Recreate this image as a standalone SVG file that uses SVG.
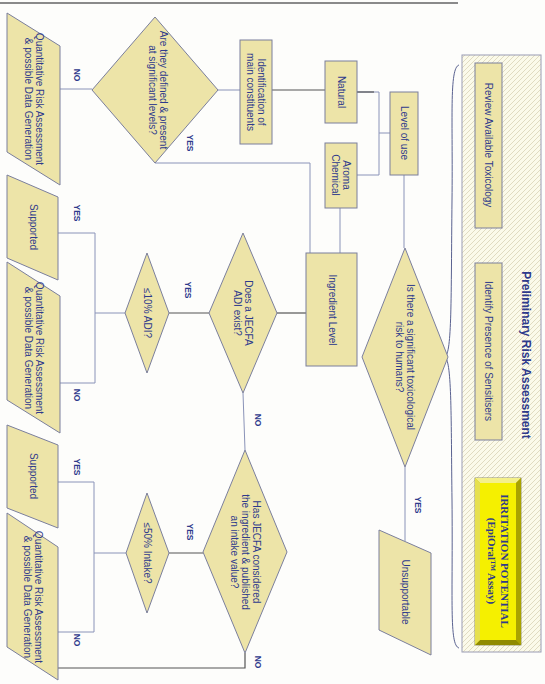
<svg xmlns="http://www.w3.org/2000/svg" width="545" height="684" viewBox="0 0 545 684">
<defs>
<pattern id="hatch" width="5" height="5" patternUnits="userSpaceOnUse">
<rect width="5" height="5" fill="#fbfaea"/>
<path d="M-1,1 L1,-1 M0,5 L5,0 M4,6 L6,4" stroke="#dcd8bc" stroke-width="0.9"/>
</pattern>
<style>
.box{fill:#ede4a8;stroke:#7b7f9c;stroke-width:1}
.t{font-family:"Liberation Sans",Arial,sans-serif;font-size:10px;fill:#2e3a8c;text-anchor:middle}
.lbl{font-family:"Liberation Sans",Arial,sans-serif;font-size:8.5px;font-weight:bold;fill:#2e3a8c;text-anchor:middle}
.c{fill:none;stroke:#8a93b8;stroke-width:1}
.cd{fill:none;stroke:#555;stroke-width:1.2}
</style>
</defs>
<rect width="545" height="684" fill="#fdfdfb"/>
<line x1="0" y1="3" x2="458" y2="3" stroke="#8a8a8a" stroke-width="2"/>

<g id="panel">
<rect x="462" y="55" width="79" height="597" fill="url(#hatch)" stroke="#9a9cb4" stroke-width="1"/>
<text class="t" transform="translate(526,355) rotate(90)" y="4" style="font-size:12px;font-weight:bold">Preliminary Risk Assessment</text>
</g>
<g id="review">
<rect class="box" x="475" y="63" width="27" height="165"/>
<text class="t" transform="translate(488.5,145) rotate(90)" y="3.5">Review Available Toxicology</text>
</g>
<g id="sensitisers">
<rect class="box" x="475" y="263" width="27" height="177"/>
<text class="t" transform="translate(488.5,351) rotate(90)" y="3.5">Identify Presence of Sensitisers</text>
</g>
<g id="irritation">
<rect x="475" y="478" width="46" height="167" fill="#c8c200" stroke="#7a7a50" stroke-width="0.8"/>
<polygon points="475,478 521,478 516,483 480,483" fill="#f4f08a"/>
<polygon points="521,478 521,645 516,640 516,483" fill="#a9a300"/>
<polygon points="475,645 521,645 516,640 480,640" fill="#8f8a00"/>
<polygon points="475,478 480,483 480,640 475,645" fill="#e6e050"/>
<rect x="480" y="483" width="36" height="157" fill="#f5f000"/>
<text transform="translate(498,561) rotate(90)" style="font-family:'Liberation Serif','Times New Roman',serif;font-size:11px;font-weight:bold;fill:#2e3a8c;text-anchor:middle"><tspan x="0" y="-2.5">IRRITATION POTENTIAL</tspan><tspan x="0" y="10">(EpiOral™ Assay)</tspan></text>
</g>
<g id="brace">
<path d="M459,65 C449,68 453,120 452,200 C451,300 452,352 445,357 C452,362 451,420 452,500 C453,600 449,645 459,648" fill="none" stroke="#5a6290" stroke-width="1"/>
</g>

<g id="connectors">
<line class="c" x1="404" y1="175" x2="404" y2="248"/>
<polyline class="c" points="390,133 379,133"/>
<polyline class="c" points="357,92 379,92 379,175 357,175"/>
<line class="cd" x1="357" y1="92" x2="374" y2="92"/>
<line class="c" x1="218" y1="90" x2="240" y2="90"/>
<line class="cd" x1="272" y1="90" x2="325" y2="90"/>
<line class="c" x1="340" y1="208" x2="340" y2="253"/>
<polyline class="c" points="155,163 310,163 310,253"/>
<line class="cd" x1="306" y1="313" x2="277" y2="313"/>
<line class="cd" x1="209" y1="313" x2="169" y2="313"/>
<line class="c" x1="125" y1="313" x2="95" y2="313"/>
<polyline class="c" points="58,233 95,233 95,383 60,383"/>
<line class="c" x1="243" y1="393" x2="245" y2="450"/>
<line class="cd" x1="203" y1="553" x2="169" y2="553"/>
<line class="c" x1="126" y1="553" x2="94" y2="553"/>
<polyline class="c" points="58,482 94,482 94,632 58,632"/>
<polyline class="cd" points="245,653 245,668 58,668"/>
<line class="c" x1="92" y1="89" x2="60" y2="89"/>
<line class="c" x1="405" y1="467" x2="405" y2="541"/>
<text class="lbl" transform="translate(77,75) rotate(90)" y="3">NO</text>
<text class="lbl" transform="translate(190,143) rotate(90)" y="3">YES</text>
<text class="lbl" transform="translate(188,290) rotate(90)" y="3">YES</text>
<text class="lbl" transform="translate(77,213) rotate(90)" y="3">YES</text>
<text class="lbl" transform="translate(77,395) rotate(90)" y="3">NO</text>
<text class="lbl" transform="translate(258,420) rotate(90)" y="3">NO</text>
<text class="lbl" transform="translate(190,532) rotate(90)" y="3">YES</text>
<text class="lbl" transform="translate(77,467) rotate(90)" y="3">YES</text>
<text class="lbl" transform="translate(77,640) rotate(90)" y="3">NO</text>
<text class="lbl" transform="translate(258,662) rotate(90)" y="3">NO</text>
<text class="lbl" transform="translate(418,505) rotate(90)" y="3">YES</text>
</g>

<g id="level-of-use">
<rect class="box" x="390" y="92" width="28" height="83"/>
<text class="t" transform="translate(404,133) rotate(90)" y="3.5">Level of use</text>
</g>
<g id="natural">
<rect class="box" x="325" y="61" width="32" height="62"/>
<text class="t" transform="translate(341,92) rotate(90)" y="3.5">Natural</text>
</g>
<g id="aroma">
<rect class="box" x="325" y="143" width="32" height="65"/>
<text class="t" transform="translate(341,175) rotate(90)"><tspan x="0" y="-2">Aroma</tspan><tspan x="0" y="9">Chemical</tspan></text>
</g>
<g id="identification">
<rect class="box" x="240" y="40" width="32" height="104"/>
<text class="t" transform="translate(256,92) rotate(90)"><tspan x="0" y="-2">Identification of</tspan><tspan x="0" y="9">main constituents</tspan></text>
</g>
<g id="defined-diamond">
<polygon class="box" points="155,17 218,90 155,163 92,90"/>
<text class="t" transform="translate(158,90) rotate(90)"><tspan x="0" y="-2">Are they defined &amp; present</tspan><tspan x="0" y="9">at significant levels?</tspan></text>
</g>
<g id="quant1">
<polygon class="box" points="7,13 60,46 60,185 7,152"/>
<text class="t" transform="translate(34,99) rotate(90)"><tspan x="0" y="-2">Quantitative Risk Assessment</tspan><tspan x="0" y="9">&amp; possible Data Generation</tspan></text>
</g>
<g id="ingredient-level">
<rect class="box" x="306" y="253" width="51" height="113"/>
<text class="t" transform="translate(332,310) rotate(90)" y="3.5">Ingredient Level</text>
</g>
<g id="risk-diamond">
<polygon class="box" points="405,248 448,357 405,467 362,357"/>
<text class="t" transform="translate(405,357) rotate(90)"><tspan x="0" y="-2">Is there a significant toxicological</tspan><tspan x="0" y="9">risk to humans?</tspan></text>
</g>
<g id="unsupportable">
<polygon class="box" points="379,530 431,553 431,655 379,630"/>
<text class="t" transform="translate(405,592) rotate(90)" y="3.5">Unsupportable</text>
</g>
<g id="adi-diamond">
<polygon class="box" points="243,233 277,313 243,393 209,313"/>
<text class="t" transform="translate(243,313) rotate(90)"><tspan x="0" y="-2">Does a JECFA</tspan><tspan x="0" y="9">ADI exist?</tspan></text>
</g>
<g id="adi10-diamond">
<polygon class="box" points="147,253 169,313 147,373 125,313"/>
<text class="t" transform="translate(147,313) rotate(90)" y="3.5">≤10% ADI?</text>
</g>
<g id="supported1">
<polygon class="box" points="7,175 58,197 58,280 7,258"/>
<text class="t" transform="translate(33,227) rotate(90)" y="3.5">Supported</text>
</g>
<g id="quant2">
<polygon class="box" points="7,262 60,296 60,433 7,400"/>
<text class="t" transform="translate(34,348) rotate(90)"><tspan x="0" y="-2">Quantitative Risk Assessment</tspan><tspan x="0" y="9">&amp; possible Data Generation</tspan></text>
</g>
<g id="jecfa-intake-diamond">
<polygon class="box" points="245,450 287,552 245,653 203,552"/>
<text class="t" transform="translate(245,552) rotate(90)"><tspan x="0" y="-7.5">Has JECFA considered</tspan><tspan x="0" y="3.5">the ingredient &amp; published</tspan><tspan x="0" y="14.5">an intake value?</tspan></text>
</g>
<g id="intake50-diamond">
<polygon class="box" points="147,493 169,553 147,613 126,553"/>
<text class="t" transform="translate(147,553) rotate(90)" y="3.5">≤50% Intake?</text>
</g>
<g id="supported2">
<polygon class="box" points="7,425 58,445 58,528 7,508"/>
<text class="t" transform="translate(33,476) rotate(90)" y="3.5">Supported</text>
</g>
<g id="quant3">
<polygon class="box" points="7,513 58,547 58,680 7,647"/>
<text class="t" transform="translate(33,597) rotate(90)"><tspan x="0" y="-2">Quantitative Risk Assessment</tspan><tspan x="0" y="9">&amp; possible Data Generation</tspan></text>
</g>
</svg>
